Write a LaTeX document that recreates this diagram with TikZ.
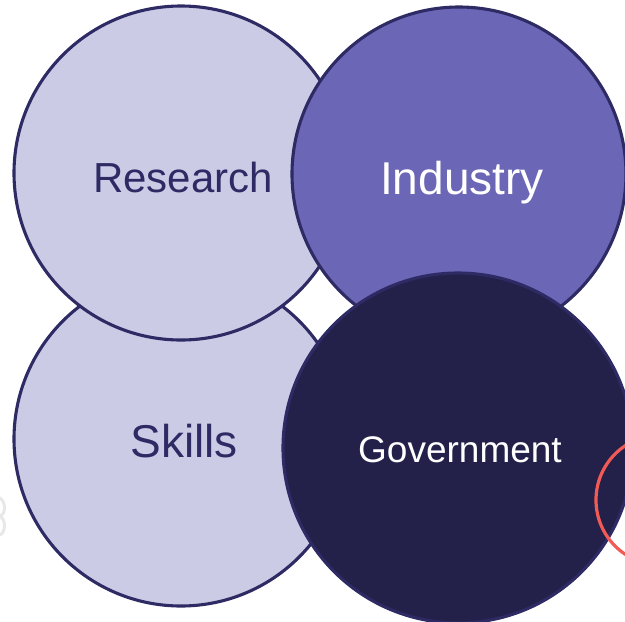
\documentclass[tikz,border=0pt]{standalone}
\usepackage{fontspec}
\setmainfont{Liberation Sans}
\definecolor{lav}{HTML}{CBCBE6}
\definecolor{navyline}{HTML}{2E2A64}
\definecolor{indfill}{HTML}{6B66B5}
\definecolor{govfill}{HTML}{23214A}
\definecolor{redline}{HTML}{F15A55}
\begin{document}
\begin{tikzpicture}[x=1pt,y=-1pt,
  ring/.style={draw=navyline,line width=3.1pt},
  lbl/.style={inner sep=0pt,anchor=base}]
\useasboundingbox (0,0) rectangle (625,622);
\clip (0,0) rectangle (625,622);
% faint grey fragment at left edge
\draw[gray!18,line width=3pt,line cap=round] (0,498) .. controls (6,502) and (6,514) .. (0,516);
\draw[gray!18,line width=3pt,line cap=round] (0,516) .. controls (6,520) and (6,532) .. (0,535);
% circles
\node[ring,fill=lav,circle,minimum size=334pt,inner sep=0pt] (skills) at (181,439) {};
\node[ring,fill=lav,circle,minimum size=334pt,inner sep=0pt] (research) at (181,173) {};
\node[ring,fill=indfill,circle,minimum size=334pt,inner sep=0pt] (industry) at (459,174) {};
\node[ring,fill=govfill,circle,minimum size=350pt,inner sep=0pt] (government) at (458,448) {};
\node[draw=redline,line width=3.2pt,circle,minimum size=130pt,inner sep=0pt] (redring) at (661,500) {};
% labels
\node[lbl,text=navyline,font=\fontsize{42}{50}\selectfont] (tr) at ([xshift=2pt,yshift=-19pt]research.center) {Research};
\node[lbl,text=white,font=\fontsize{46}{54}\selectfont] (ti) at ([xshift=3pt,yshift=-20pt]industry.center) {Industry};
\node[lbl,text=navyline,font=\fontsize{46}{54}\selectfont] (ts) at ([xshift=3pt,yshift=-18pt]skills.center) {Skills};
\node[lbl,text=white,font=\fontsize{37}{44}\selectfont] (tg) at ([xshift=2pt,yshift=-14pt]government.center) {Government};
\end{tikzpicture}
\end{document}
